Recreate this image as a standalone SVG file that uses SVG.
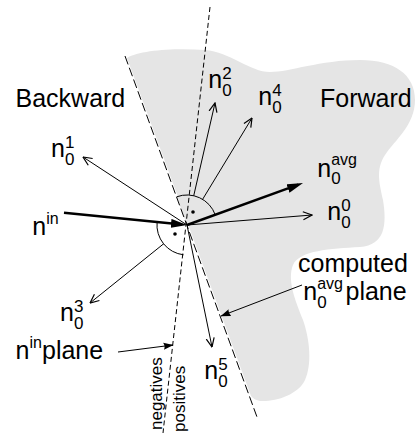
<svg xmlns="http://www.w3.org/2000/svg" width="419" height="436" viewBox="0 0 419 436">
<style>
text{font-family:"Liberation Sans",Arial,Helvetica,sans-serif;fill:#000}
.big{font-size:25px}
.s{font-size:17px}
.sl{font-size:16px}
.thin{stroke:#000;stroke-width:1;fill:none}
.thick{stroke:#000;stroke-width:2.4;fill:none}
.dl{stroke:#000;stroke-width:1;fill:none;stroke-dasharray:9 3.5}
.ds{stroke:#000;stroke-width:1;fill:none;stroke-dasharray:5 3}
</style>
<defs>
<marker id="open" viewBox="0 0 10 10" markerWidth="10" markerHeight="10" refX="9.4" refY="5" orient="auto" markerUnits="userSpaceOnUse">
<path d="M0.5,1 L9.4,5 L0.5,9" fill="none" stroke="#000" stroke-width="1.2"/>
</marker>
<marker id="big" viewBox="0 0 16 10" markerWidth="16" markerHeight="10" refX="11" refY="5" orient="auto" markerUnits="userSpaceOnUse">
<path d="M0,0.5 L16,5 L0,9.5 Z" fill="#000"/>
</marker>
<marker id="small" viewBox="0 0 10 8" markerWidth="10" markerHeight="8" refX="9.5" refY="4" orient="auto" markerUnits="userSpaceOnUse">
<path d="M0,0.5 L10,4 L0,7.5 Q2,4 0,0.5 Z" fill="#000"/>
</marker>
</defs>

<g id="forward-region">
<path d="M127,58 C140,50 175,48 205,50 C230,52 250,72 270,72 C290,72 320,60 360,60 C395,60 415,75 415,100 C415,125 395,140 385,155 C375,170 380,185 383,200 C387,225 385,245 360,247 C330,249 300,250 293,265 C287,280 295,300 303,320 C310,340 312,365 305,380 C298,395 275,402 260,401 C255,400 253,398 251,396 L127,58 Z" fill="#e5e5e5"/>
</g>

<g id="connectors">
<line class="thin" x1="187" y1="225" x2="312" y2="215" marker-end="url(#open)"/>
<line class="thin" x1="187" y1="225" x2="83" y2="157" marker-end="url(#open)"/>
<line class="thin" x1="187" y1="225" x2="215" y2="103" marker-end="url(#open)"/>
<line class="thin" x1="187" y1="225" x2="252" y2="118" marker-end="url(#open)"/>
<line class="thin" x1="187" y1="225" x2="90" y2="303" marker-end="url(#open)"/>
<line class="thin" x1="187" y1="225" x2="212" y2="347" marker-end="url(#open)"/>
</g>

<g id="angles">
<path d="M187,225 L176.7,196.8 A30,30 0 0 1 215.2,214.7 Z" fill="#e5e5e5"/>
<path d="M187,225 L183.5,254.8 A30,30 0 0 1 157.1,222 Z" fill="#fff"/>
<path class="thin" d="M176.7,196.8 A30,30 0 0 1 215.2,214.7"/>
<path class="thin" d="M183.5,254.8 A30,30 0 0 1 157.1,222"/>
<circle cx="193" cy="212" r="1.8" fill="#000"/>
<circle cx="175" cy="234" r="1.8" fill="#000"/>
</g>

<g id="planes">
<line class="dl" x1="125" y1="56" x2="257" y2="417"/>
<line class="ds" x1="210" y1="7" x2="163" y2="433"/>
</g>

<g id="thick-vectors">
<line class="thick" x1="64" y1="212.7" x2="182" y2="224.5" marker-end="url(#big)"/>
<line class="thick" x1="187" y1="225" x2="298.3" y2="184.7" marker-end="url(#big)"/>
</g>

<g id="pointers">
<line class="thin" x1="302" y1="285" x2="221" y2="316" marker-end="url(#small)"/>
<line class="thin" x1="118" y1="352" x2="173" y2="345" marker-end="url(#small)"/>
</g>

<g id="backward"><text class="big" x="15.5" y="107">Backward</text></g>
<g id="forward"><text class="big" x="320" y="107">Forward</text></g>

<g id="n01"><text class="big" x="51" y="157">n</text><text class="s" x="65" y="148">1</text><text class="s" x="65" y="165">0</text></g>
<g id="n02"><text class="big" x="208.3" y="88">n</text><text class="s" x="222.3" y="78.5">2</text><text class="s" x="222.3" y="95.5">0</text></g>
<g id="n04"><text class="big" x="258.3" y="105">n</text><text class="s" x="272.3" y="95.5">4</text><text class="s" x="272.3" y="112.5">0</text></g>
<g id="n0avg"><text class="big" x="317.3" y="176.7">n</text><text class="sl" x="331.2" y="165">avg</text><text class="s" x="331.2" y="184.2">0</text></g>
<g id="n00"><text class="big" x="327.3" y="220">n</text><text class="s" x="341.3" y="210.5">0</text><text class="s" x="341.3" y="227.5">0</text></g>
<g id="nin"><text class="big" x="32.3" y="235">n</text><text class="sl" x="46.2" y="224">in</text></g>
<g id="n03"><text class="big" x="60" y="321">n</text><text class="s" x="74" y="311.5">3</text><text class="s" x="74" y="328.5">0</text></g>
<g id="n05"><text class="big" x="204.3" y="379">n</text><text class="s" x="218.3" y="369.5">5</text><text class="s" x="218.3" y="386.5">0</text></g>

<g id="nin-plane"><text class="big" x="15.6" y="359">n</text><text class="sl" x="29.5" y="348">in</text><text class="big" x="42" y="359">plane</text></g>
<g id="computed-plane"><text class="big" x="298" y="272">computed</text><text class="big" x="303.3" y="300">n</text><text class="sl" x="317.2" y="288.5">avg</text><text class="s" x="317.2" y="307.5">0</text><text class="big" x="345.5" y="300">plane</text></g>

<g id="sides">
<text class="s" transform="translate(162,430) rotate(-90)">negatives</text>
<text class="s" transform="translate(184.5,432) rotate(-90)">positives</text>
</g>
</svg>
